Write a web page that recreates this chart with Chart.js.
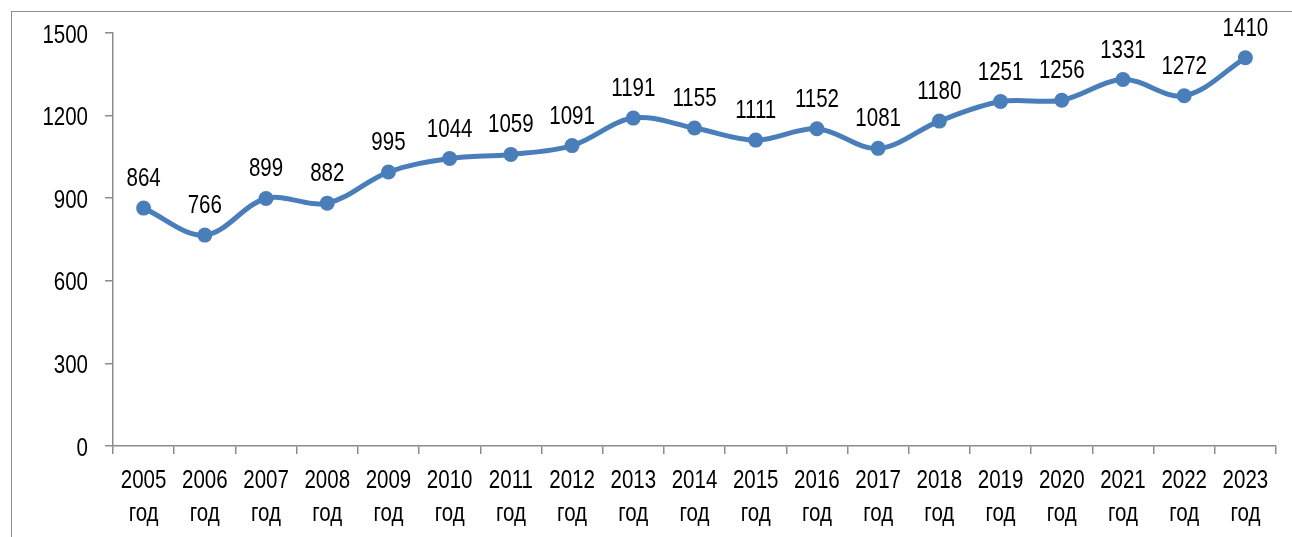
<!DOCTYPE html>
<html>
<head>
<meta charset="utf-8">
<script src="https://cdn.jsdelivr.net/npm/chart.js@4/dist/chart.umd.min.js"></script>
<style>
  html, body { margin: 0; padding: 0; background: #fff; overflow: hidden; }
  #wrap { position: relative; width: 1292px; height: 537px; }
  #frame { position: absolute; left: 11px; top: 11px; width: 1320px; height: 560px; border: 1.5px solid #8c8c8c; }
  canvas { position: absolute; left: 0; top: 0; }
</style>
</head>
<body>
<div id="wrap">
  <div id="frame"></div>
  <canvas id="mainChart" width="1292" height="537"></canvas>
</div>
<script>
// values
const years = ['2005', '2006', '2007', '2008', '2009', '2010', '2011', '2012', '2013', '2014',
               '2015', '2016', '2017', '2018', '2019', '2020', '2021', '2022', '2023'];
const values = [864, 766, 899, 882, 995, 1044, 1059, 1091, 1191, 1155,
                1111, 1152, 1081, 1180, 1251, 1256, 1331, 1272, 1410];
const yTicks = [0, 300, 600, 900, 1200, 1500];
const yearSuffix = 'год';

const fontFamily = "'Liberation Sans', Arial, sans-serif";
const lineColor = '#4a7ebb';

// the original uses a narrow font, so squeeze regular Arial sideways
function narrowText(ctx, text, x, y, align) {
    ctx.save();
    ctx.translate(x, y);
    ctx.scale(0.82, 1);
    ctx.textAlign = align;
    ctx.fillText(text, 0, 0);
    ctx.restore();
}

// tick labels and value labels drawn at positions from the chart scales
const textLayer = {
    id: 'textLayer',
    afterDraw(chart) {
        const ctx = chart.ctx;
        const xs = chart.scales.x;
        const ys = chart.scales.y;
        ctx.save();
        ctx.font = '25px ' + fontFamily;
        ctx.fillStyle = '#000';
        ctx.textBaseline = 'alphabetic';

        yTicks.forEach(v => {
            narrowText(ctx, String(v), ys.right - 25, ys.getPixelForValue(v) + 9.5, 'right');
        });
        years.forEach((yr, i) => {
            const x = xs.getPixelForValue(i);
            narrowText(ctx, yr, x, xs.top + 42, 'center');
            narrowText(ctx, yearSuffix, x, xs.top + 75, 'center');
        });
        chart.getDatasetMeta(0).data.forEach((pt, i) => {
            narrowText(ctx, String(values[i]), pt.x, pt.y - 22, 'center');
        });
        ctx.restore();
    }
};

const ctx = document.getElementById('mainChart').getContext('2d');
new Chart(ctx, {
    type: 'line',
    data: {
        labels: years,
        datasets: [{
            data: values,
            borderColor: lineColor,
            backgroundColor: lineColor,
            borderWidth: 5,
            pointRadius: 7.5,
            pointHoverRadius: 7.5,
            pointBackgroundColor: lineColor,
            pointBorderWidth: 0,
            tension: 0.35,
            fill: false
        }]
    },
    options: {
        responsive: false,
        animation: false,
        events: [],
        layout: { padding: { top: 33, right: 16, left: 0, bottom: 0 } },
        plugins: {
            legend: { display: false },
            tooltip: { enabled: false }
        },
        scales: {
            x: {
                offset: true,
                grid: { offset: true, drawOnChartArea: false, tickLength: 8, color: '#8c8c8c', lineWidth: 1.5 },
                border: { color: '#8c8c8c', width: 1.5 },
                ticks: { display: false },
                afterFit(scale) { scale.height = 91; }
            },
            y: {
                min: 0,
                max: 1500,
                afterBuildTicks(scale) { scale.ticks = yTicks.map(v => ({ value: v })); },
                grid: { drawOnChartArea: false, tickLength: 8, color: '#8c8c8c', lineWidth: 1.5 },
                border: { color: '#8c8c8c', width: 1.5 },
                ticks: { display: false },
                afterFit(scale) { scale.width = 113; }
            }
        }
    },
    plugins: [textLayer]
});
</script>
</body>
</html>
